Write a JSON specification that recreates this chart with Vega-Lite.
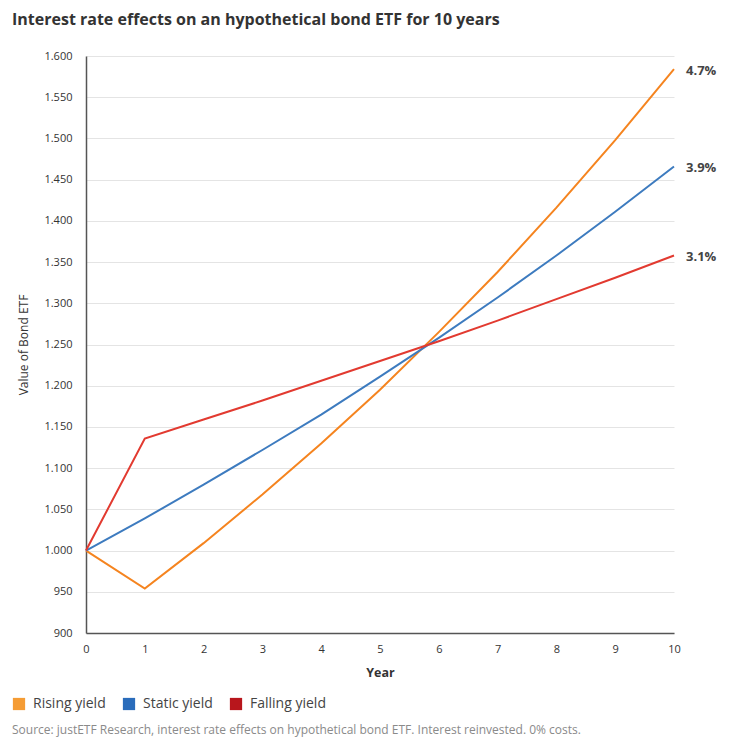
{
  "$schema": "https://vega.github.io/schema/vega-lite/v6.json",
  "width": 588,
  "height": 577,
  "padding": {"left": 12, "top": 12, "right": 10, "bottom": 10},
  "background": "white",
  "title": {
    "text": "Interest rate effects on an hypothetical bond ETF for 10 years",
    "anchor": "start",
    "frame": "bounds",
    "font": "Open Sans",
    "fontSize": 16,
    "fontWeight": "bold",
    "color": "#333333",
    "offset": 22
  },
  "config": {
    "font": "Open Sans",
    "view": {"stroke": null}
  },
  "datasets": {
    "series": [
      {"year": 0, "value": 1000, "series": "Rising yield"},
      {"year": 1, "value": 954, "series": "Rising yield"},
      {"year": 2, "value": 1009, "series": "Rising yield"},
      {"year": 3, "value": 1068, "series": "Rising yield"},
      {"year": 4, "value": 1130, "series": "Rising yield"},
      {"year": 5, "value": 1195, "series": "Rising yield"},
      {"year": 6, "value": 1265, "series": "Rising yield"},
      {"year": 7, "value": 1338, "series": "Rising yield"},
      {"year": 8, "value": 1416, "series": "Rising yield"},
      {"year": 9, "value": 1498, "series": "Rising yield"},
      {"year": 10, "value": 1584, "series": "Rising yield"},
      {"year": 0, "value": 1000, "series": "Static yield"},
      {"year": 1, "value": 1039, "series": "Static yield"},
      {"year": 2, "value": 1080, "series": "Static yield"},
      {"year": 3, "value": 1122, "series": "Static yield"},
      {"year": 4, "value": 1165, "series": "Static yield"},
      {"year": 5, "value": 1211, "series": "Static yield"},
      {"year": 6, "value": 1258, "series": "Static yield"},
      {"year": 7, "value": 1307, "series": "Static yield"},
      {"year": 8, "value": 1358, "series": "Static yield"},
      {"year": 9, "value": 1411, "series": "Static yield"},
      {"year": 10, "value": 1466, "series": "Static yield"},
      {"year": 0, "value": 1000, "series": "Falling yield"},
      {"year": 1, "value": 1136, "series": "Falling yield"},
      {"year": 2, "value": 1159, "series": "Falling yield"},
      {"year": 3, "value": 1182, "series": "Falling yield"},
      {"year": 4, "value": 1206, "series": "Falling yield"},
      {"year": 5, "value": 1230, "series": "Falling yield"},
      {"year": 6, "value": 1254, "series": "Falling yield"},
      {"year": 7, "value": 1279, "series": "Falling yield"},
      {"year": 8, "value": 1305, "series": "Falling yield"},
      {"year": 9, "value": 1331, "series": "Falling yield"},
      {"year": 10, "value": 1358, "series": "Falling yield"}
    ],
    "ends": [
      {"year": 10, "value": 1584, "label": "4.7%"},
      {"year": 10, "value": 1466, "label": "3.9%"},
      {"year": 10, "value": 1358, "label": "3.1%"}
    ]
  },
  "encoding": {
    "x": {
      "field": "year",
      "type": "quantitative",
      "scale": {"domain": [0, 10], "nice": false, "zero": false},
      "axis": {
        "title": "Year",
        "values": [0, 1, 2, 3, 4, 5, 6, 7, 8, 9, 10],
        "format": "d",
        "grid": false,
        "ticks": false,
        "domainColor": "#555555",
        "domainWidth": 1.5,
        "labelFont": "Open Sans",
        "labelFontSize": 11,
        "labelColor": "#333333",
        "labelPadding": 10,
        "labelFlush": false,
        "titleFont": "Open Sans",
        "titleFontSize": 12.5,
        "titleFontWeight": "bold",
        "titleColor": "#333333",
        "titlePadding": 12
      }
    },
    "y": {
      "field": "value",
      "type": "quantitative",
      "scale": {"domain": [900, 1600], "nice": false, "zero": false},
      "axis": {
        "title": "Value of Bond ETF",
        "values": [900, 950, 1000, 1050, 1100, 1150, 1200, 1250, 1300, 1350, 1400, 1450, 1500, 1550, 1600],
        "labelExpr": "replace(format(datum.value, ','), ',', '.')",
        "ticks": false,
        "gridColor": "#e4e4e4",
        "gridWidth": 1,
        "domainColor": "#555555",
        "domainWidth": 1.5,
        "labelFont": "Open Sans",
        "labelFontSize": 11,
        "labelColor": "#333333",
        "labelPadding": 14,
        "labelFlush": false,
        "titleFont": "Open Sans",
        "titleFontSize": 12,
        "titleFontWeight": "normal",
        "titleColor": "#333333",
        "titlePadding": 13
      }
    }
  },
  "layer": [
    {
      "data": {"name": "series"},
      "mark": {"type": "line", "strokeWidth": 2, "clip": false},
      "encoding": {
        "color": {
          "field": "series",
          "type": "nominal",
          "scale": {
            "domain": ["Rising yield", "Static yield", "Falling yield"],
            "range": ["#f5841f", "#3d7bbf", "#e23a30"]
          },
          "legend": null
        }
      }
    },
    {
      "data": {"name": "series"},
      "mark": {"type": "point", "opacity": 0, "shape": "square", "filled": true},
      "encoding": {
        "color": {
          "field": "series",
          "type": "nominal",
          "scale": {
            "domain": ["Rising yield", "Static yield", "Falling yield"],
            "range": ["#f59c34", "#2a6cbb", "#b8161c"]
          },
          "legend": {
            "title": "Source: justETF Research, interest rate effects on hypothetical bond ETF. Interest reinvested. 0% costs.",
            "orient": "none",
            "legendX": -74,
            "legendY": 641,
            "direction": "horizontal",
            "titleOrient": "bottom",
            "titleAnchor": "start",
            "titleFont": "Open Sans",
            "titleFontSize": 12,
            "titleFontWeight": "normal",
            "titleColor": "#8a8a8a",
            "titleLimit": 800,
            "titlePadding": 14,
            "symbolType": "square",
            "symbolSize": 150,
            "symbolOpacity": 1,
            "symbolStrokeWidth": 0,
            "labelFont": "Open Sans",
            "labelFontSize": 14,
            "labelColor": "#444444",
            "labelOffset": 7,
            "columnPadding": 16,
            "labelLimit": 200
          }
        }
      }
    },
    {
      "data": {"name": "ends"},
      "mark": {
        "type": "text",
        "align": "left",
        "baseline": "middle",
        "dx": 12,
        "dy": 2,
        "font": "Open Sans",
        "fontSize": 13,
        "fontWeight": "bold",
        "color": "#444444"
      },
      "encoding": {
        "text": {"field": "label", "type": "nominal"}
      }
    }
  ],
  "resolve": {"scale": {"color": "independent"}, "legend": {"color": "independent"}}
}
